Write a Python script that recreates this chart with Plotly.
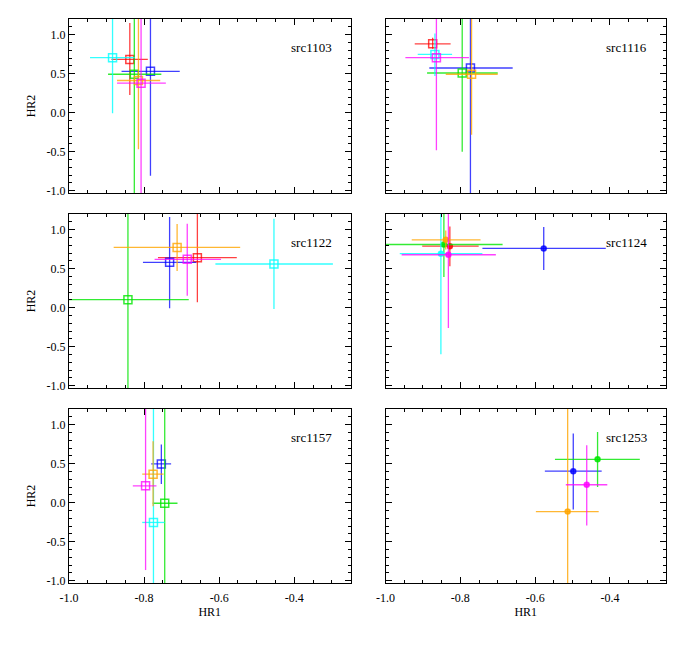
import plotly.graph_objects as go

# ---------------- data ----------------
sources = ["src1103", "src1116", "src1122", "src1124", "src1157", "src1253"]
color_names = ["red", "blue", "green", "cyan", "orange", "magenta"]
colors = {"red": "rgba(255,0,0,0.75)", "blue": "rgba(0,0,255,0.75)", "green": "rgba(0,230,0,0.8)",
          "cyan": "rgba(0,255,255,0.8)", "orange": "rgba(255,165,0,0.8)", "magenta": "rgba(255,0,255,0.75)"}

# per source, per colour: HR1, HR2, HR1 low, HR1 high, HR2 low, HR2 high
src1103_hr1 = [-0.838, -0.783, -0.826, -0.884, -0.815, -0.808]
src1103_hr2 = [0.682, 0.530, 0.492, 0.704, 0.412, 0.377]
src1103_hr1_lo = [-0.887, -0.860, -0.896, -0.944, -0.872, -0.872]
src1103_hr1_hi = [-0.790, -0.705, -0.754, -0.825, -0.757, -0.742]
src1103_hr2_lo = [0.225, -0.808, -1.5, -0.007, -0.47, -1.5]
src1103_hr2_hi = [1.149, 1.5, 1.5, 1.5, 1.5, 1.5]

src1116_hr1 = [-0.874, -0.773, -0.795, -0.868, -0.770, -0.864]
src1116_hr2 = [0.882, 0.572, 0.508, 0.746, 0.492, 0.704]
src1116_hr1_lo = [-0.922, -0.883, -0.889, -0.914, -0.839, -0.947]
src1116_hr1_hi = [-0.826, -0.660, -0.700, -0.822, -0.700, -0.777]
src1116_hr2_lo = [0.82, -1.5, -0.50, 0.47, -0.284, -0.483]
src1116_hr2_hi = [0.96, 1.5, 1.5, 1.013, 1.5, 1.5]

src1122_hr1 = [-0.658, -0.732, -0.843, -0.454, -0.712, -0.685]
src1122_hr2 = [0.640, 0.581, 0.102, 0.559, 0.771, 0.619]
src1122_hr1_lo = [-0.763, -0.803, -1.1, -0.610, -0.881, -0.772]
src1122_hr1_hi = [-0.553, -0.661, -0.681, -0.297, -0.544, -0.595]
src1122_hr2_lo = [0.069, -0.008, -1.5, -0.017, 0.470, 0.153]
src1122_hr2_hi = [1.5, 1.161, 1.5, 1.14, 1.072, 1.076]

src1124_hr1 = [-0.828, -0.577, -0.844, -0.852, -0.839, -0.832]
src1124_hr2 = [0.788, 0.759, 0.809, 0.691, 0.869, 0.678]
src1124_hr1_lo = [-0.902, -0.741, -1.1, -0.962, -0.930, -0.957]
src1124_hr1_hi = [-0.751, -0.411, -0.687, -0.741, -0.746, -0.705]
src1124_hr2_lo = [0.53, 0.483, 0.394, -0.597, 0.746, -0.262]
src1124_hr2_hi = [1.04, 1.034, 1.5, 1.5, 0.987, 1.5]

src1157_hr1 = [None, -0.754, -0.745, -0.775, -0.776, -0.796]
src1157_hr2 = [None, 0.496, -0.008, -0.254, 0.365, 0.216]
src1157_hr1_lo = [None, -0.781, -0.777, -0.805, -0.805, -0.830]
src1157_hr1_hi = [None, -0.728, -0.711, -0.745, -0.748, -0.767]
src1157_hr2_lo = [None, 0.238, -1.5, -1.5, -0.046, -0.864]
src1157_hr2_hi = [None, 0.746, 1.5, 1.5, 0.788, 1.5]

src1253_hr1 = [None, -0.498, -0.433, None, -0.513, -0.462]
src1253_hr2 = [None, 0.403, 0.555, None, -0.114, 0.229]
src1253_hr1_lo = [None, -0.574, -0.547, None, -0.598, -0.518]
src1253_hr1_hi = [None, -0.422, -0.320, None, -0.430, -0.407]
src1253_hr2_lo = [None, -0.089, 0.199, None, -1.5, -0.292]
src1253_hr2_hi = [None, 0.886, 0.906, None, 1.5, 0.737]

panel_data = {
    "src1103": (src1103_hr1, src1103_hr2, src1103_hr1_lo, src1103_hr1_hi, src1103_hr2_lo, src1103_hr2_hi),
    "src1116": (src1116_hr1, src1116_hr2, src1116_hr1_lo, src1116_hr1_hi, src1116_hr2_lo, src1116_hr2_hi),
    "src1122": (src1122_hr1, src1122_hr2, src1122_hr1_lo, src1122_hr1_hi, src1122_hr2_lo, src1122_hr2_hi),
    "src1124": (src1124_hr1, src1124_hr2, src1124_hr1_lo, src1124_hr1_hi, src1124_hr2_lo, src1124_hr2_hi),
    "src1157": (src1157_hr1, src1157_hr2, src1157_hr1_lo, src1157_hr1_hi, src1157_hr2_lo, src1157_hr2_hi),
    "src1253": (src1253_hr1, src1253_hr2, src1253_hr1_lo, src1253_hr1_hi, src1253_hr2_lo, src1253_hr2_hi),
}
marker_style = {"src1103": ("square-open", 8), "src1116": ("square-open", 8), "src1122": ("square-open", 8),
                "src1124": ("circle", 5), "src1157": ("square-open", 8), "src1253": ("circle", 5)}

x_ticks = [-1.0, -0.8, -0.6, -0.4]
y_ticks = [-1.0, -0.5, 0.0, 0.5, 1.0]

# ---------------- layout geometry ----------------
# page body has a default 8px margin, so shift everything up/left by that
OFF = 8
W, H = 692, 652
left_px, right_px, top_px, bottom_px = 69.3, 666, 19, 583
ml = left_px - OFF
mt = top_px - OFF
pw = right_px - left_px
ph = bottom_px - top_px
mr = W - ml - pw
mb = H - mt - ph
col_px = [(69.3, 350.7), (385.7, 666)]
col_dom = [[(a - left_px) / pw, (b - left_px) / pw] for (a, b) in col_px]
rows_px = [(19, 193), (214, 388), (409, 583)]
row_dom = [[(bottom_px - b) / ph, (bottom_px - t) / ph] for (t, b) in rows_px]

FONT = "Liberation Serif"
fig = go.Figure()
layout = dict(width=W, height=H, margin=dict(l=ml, r=mr, t=mt, b=mb, autoexpand=False),
              plot_bgcolor="white", paper_bgcolor="white", showlegend=False,
              font=dict(family=FONT, size=12, color="black"))
annotations = []

for i, src in enumerate(sources):
    r, c = divmod(i, 2)
    ax = i + 1
    xa = "x" if ax == 1 else f"x{ax}"
    ya = "y" if ax == 1 else f"y{ax}"
    xkey = "xaxis" if ax == 1 else f"xaxis{ax}"
    ykey = "yaxis" if ax == 1 else f"yaxis{ax}"
    hr1, hr2, x_lo, x_hi, y_lo, y_hi = panel_data[src]
    sym, size = marker_style[src]
    for k, cname in enumerate(color_names):
        if hr1[k] is None:
            continue
        col = colors[cname]
        fig.add_trace(go.Scatter(
            x=[hr1[k]], y=[hr2[k]], xaxis=xa, yaxis=ya, mode="markers",
            marker=dict(symbol=sym, size=size, color=col, line=dict(color=col, width=1.5)),
            error_x=dict(type="data", symmetric=False, array=[x_hi[k] - hr1[k]],
                         arrayminus=[hr1[k] - x_lo[k]], color=col, thickness=1.3, width=0),
            error_y=dict(type="data", symmetric=False, array=[y_hi[k] - hr2[k]],
                         arrayminus=[hr2[k] - y_lo[k]], color=col, thickness=1.3, width=0),
            cliponaxis=True))
    common = dict(showline=True, linecolor="black", linewidth=1, mirror="allticks",
                  ticks="inside", ticklen=6, tickcolor="black", showgrid=False, zeroline=False,
                  automargin=False,
                  tickfont=dict(family=FONT, size=12, color="black"))
    layout[xkey] = dict(common, domain=col_dom[c], range=[-1.0, -0.25], anchor=ya,
                        tickvals=x_ticks, ticktext=[f"{v:.1f}" for v in x_ticks],
                        showticklabels=(r == 2), ticklabelstandoff=4,
                        minor=dict(dtick=0.05, tick0=-1.0, ticks="inside", ticklen=3, tickcolor="black"),
                        title=dict(text="HR1" if r == 2 else "", font=dict(family=FONT, size=12), standoff=2))
    layout[ykey] = dict(common, domain=row_dom[r], range=[-1.03, 1.2], anchor=xa,
                        tickvals=y_ticks, ticktext=[f"{v:.1f}" for v in y_ticks],
                        showticklabels=(c == 0),
                        minor=dict(dtick=0.1, tick0=-1.0, ticks="inside", ticklen=3, tickcolor="black"),
                        title=dict(text="HR2" if c == 0 else "", font=dict(family=FONT, size=12), standoff=8))
    annotations.append(dict(text=src, xref=f"{xa} domain", yref=f"{ya} domain", x=0.86, y=0.835,
                            xanchor="center", yanchor="middle", showarrow=False,
                            font=dict(family=FONT, size=13, color="black")))

layout["annotations"] = annotations
fig.update_layout(**layout)
fig.write_html("out.html")
